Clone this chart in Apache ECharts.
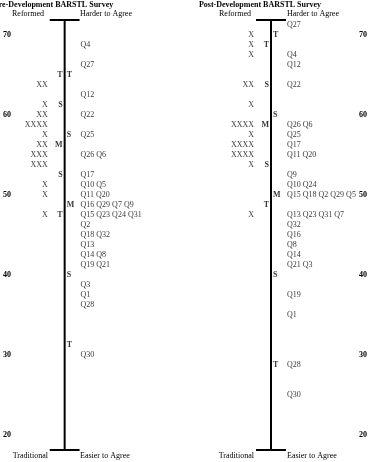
<!DOCTYPE html>
<html><head><meta charset="utf-8">
<script src="https://cdn.jsdelivr.net/npm/echarts@6/dist/echarts.min.js"></script>
<style>html,body{margin:0;padding:0;background:#fff}#c{width:373px;height:462px}</style>
</head><body><div id="c"></div>
<script>
// ---- Data ----
const scaleMin = 18.125, scaleMax = 71.875;
const tickValues = [20, 30, 40, 50, 60, 70];

// Pre-development survey
const preItemValues = [68.75, 66.25, 62.5, 60, 57.5, 55, 52.5, 51.25, 50, 48.75, 47.5, 46.25, 45, 43.75, 42.5, 41.25, 38.75, 37.5, 36.25, 30];
const preItemLabels = ['Q4', 'Q27', 'Q12', 'Q22', 'Q25', 'Q26 Q6', 'Q17', 'Q10 Q5', 'Q11 Q20', 'Q16 Q29 Q7 Q9', 'Q15 Q23 Q24 Q31', 'Q2', 'Q18 Q32', 'Q13', 'Q14 Q8', 'Q19 Q21', 'Q3', 'Q1', 'Q28', 'Q30'];
const prePersonValues = [63.75, 61.25, 60, 58.75, 57.5, 56.25, 55, 53.75, 51.25, 50, 47.5];
const prePersonCounts = [2, 1, 2, 4, 1, 2, 3, 3, 1, 1, 1];
const statLetters = ['T', 'S', 'M', 'S', 'T'];
const prePersonStatValues = [65, 61.25, 56.25, 52.5, 47.5];
const preItemStatValues = [65, 57.5, 48.75, 40, 31.25];

// Post-development survey
const postItemValues = [71.25, 67.5, 66.25, 63.75, 58.75, 57.5, 56.25, 55, 52.5, 51.25, 50, 47.5, 46.25, 45, 43.75, 42.5, 41.25, 37.5, 35, 28.75, 25];
const postItemLabels = ['Q27', 'Q4', 'Q12', 'Q22', 'Q26 Q6', 'Q25', 'Q17', 'Q11 Q20', 'Q9', 'Q10 Q24', 'Q15 Q18 Q2 Q29 Q5', 'Q13 Q23 Q31 Q7', 'Q32', 'Q16', 'Q8', 'Q14', 'Q21 Q3', 'Q19', 'Q1', 'Q28', 'Q30'];
const postPersonValues = [70, 68.75, 67.5, 63.75, 61.25, 58.75, 57.5, 56.25, 55, 53.75, 47.5];
const postPersonCounts = [1, 1, 1, 2, 1, 4, 1, 4, 4, 1, 1];
const postPersonStatValues = [68.75, 63.75, 58.75, 53.75, 48.75];
const postItemStatValues = [70, 60, 50, 40, 28.75];

// ---- Rendering ----
const FONT = '"Liberation Serif", "Times New Roman", serif';
const txt = { fontSize: 8, fontFamily: FONT, color: '#000' };

function panelSeries(gi, itemV, itemL, perV, perC, perStat, itemStat) {
  const base = { xAxisIndex: gi, yAxisIndex: gi, animation: false, silent: true, clip: false };
  const line = (data) => Object.assign({}, base, {
    type: 'line', data, symbol: 'none', lineStyle: { color: '#000', width: 2 }
  });
  const labels = (data, pos, bold) => Object.assign({}, base, {
    type: 'scatter', symbolSize: 0, data,
    label: Object.assign({ show: true, position: pos, distance: 0, formatter: '{b}',
      fontWeight: bold ? 'bold' : 'normal' }, txt)
  });
  return [
    line([[0, scaleMin], [0, scaleMax]]),
    line([[-15, scaleMax], [15, scaleMax]]),
    line([[-15, scaleMin], [15, scaleMin]]),
    labels(itemV.map((v, i) => ({ name: itemL[i], value: [16, v] })), 'right', false),
    labels(perV.map((v, i) => ({ name: 'X'.repeat(perC[i]), value: [-17, v] })), 'left', false),
    labels(perStat.map((v, i) => ({ name: statLetters[i], value: [-2, v] })), 'left', true),
    labels(itemStat.map((v, i) => ({ name: statLetters[i], value: [2, v] })), 'right', true)
  ];
}

const yAxisCommon = (gi, pos, margin) => ({
  type: 'value', gridIndex: gi, min: 20, max: scaleMax, interval: 10, position: pos,
  axisLine: { show: false }, axisTick: { show: false }, splitLine: { show: false },
  axisLabel: Object.assign({ inside: true, margin, fontWeight: 'bold', align: pos === 'left' ? 'left' : 'right',
    showMaxLabel: false,
    formatter: v => tickValues.indexOf(v) >= 0 ? String(v) : '' }, txt)
});

const gtext = (x, y, text, align, bold) => ({
  type: 'text', x, y, silent: true,
  style: { text, align, verticalAlign: 'middle', fill: '#000',
    font: (bold ? 'bold ' : '') + '8px ' + FONT }
});

const option = {
  backgroundColor: '#fff',
  animation: false,
  grid: [
    { left: 0, width: 186, top: 20, height: 415 },
    { left: 186, width: 187, top: 20, height: 415 }
  ],
  xAxis: [
    { type: 'value', gridIndex: 0, min: -64, max: 122, show: false },
    { type: 'value', gridIndex: 1, min: -85, max: 102, show: false }
  ],
  yAxis: [yAxisCommon(0, 'left', 2), yAxisCommon(1, 'right', 6)],
  graphic: [
    gtext(53.5, 4.5, 'Pre-Development BARSTL Survey', 'center', true),
    gtext(44, 14, 'Reformed', 'right'),
    gtext(80, 14, 'Harder to Agree', 'left'),
    gtext(48, 456, 'Traditional', 'right'),
    gtext(80, 456, 'Easier to Agree', 'left'),
    gtext(260, 4.5, 'Post-Development BARSTL Survey', 'center', true),
    gtext(251, 14, 'Reformed', 'right'),
    gtext(287, 14, 'Harder to Agree', 'left'),
    gtext(254, 456, 'Traditional', 'right'),
    gtext(287, 456, 'Easier to Agree', 'left')
  ],
  series: [].concat(
    panelSeries(0, preItemValues, preItemLabels, prePersonValues, prePersonCounts, prePersonStatValues, preItemStatValues),
    panelSeries(1, postItemValues, postItemLabels, postPersonValues, postPersonCounts, postPersonStatValues, postItemStatValues)
  )
};

const chart = echarts.init(document.getElementById('c'), null, { renderer: 'canvas' });
chart.setOption(option);
</script>
</body></html>
